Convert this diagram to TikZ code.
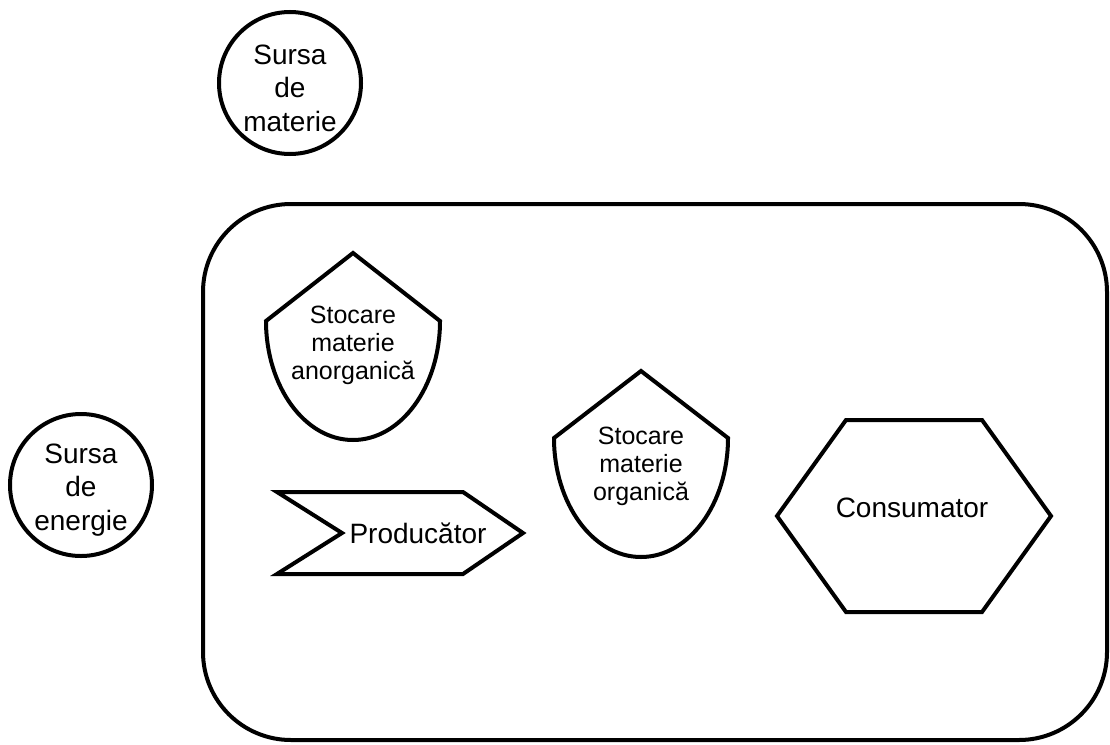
\documentclass[tikz,border=0pt]{standalone}
\usepackage{fontspec}
\setmainfont{Liberation Sans}
\begin{document}
\begin{tikzpicture}[x=1pt,y=-1pt,
  outline/.style={draw=black, line width=4pt, line join=miter},
  source/.style={circle, outline, minimum size=142pt, inner sep=0pt},
  bigtxt/.style={inner sep=0pt, align=center, font=\fontsize{28}{33.5}\selectfont},
  smalltxt/.style={inner sep=0pt, align=center, font=\fontsize{25}{28}\selectfont}]
\useasboundingbox (0,0) rectangle (1110,744);

% ecosystem boundary
\draw[outline, rounded corners=88pt] (203,204) rectangle (1107,740);

% external sources (text sits a little below the circle centre)
\node[source] (materie) at (290,83) {};
\node[bigtxt] (materietxt) at ([yshift=-5pt]materie.center) {Sursa\\de\\materie};
\node[source] (energie) at (81,485) {};
\node[bigtxt] (energietxt) at ([yshift=-5pt]energie.center) {Sursa\\de\\energie};

% inorganic matter storage
\draw[outline] (266,321) -- (353,253) -- (440,321)
  arc[start angle=0, end angle=180, x radius=87, y radius=119] -- cycle;
\node[smalltxt] (anorg) at (353,345) {Stocare\\materie\\anorganică};

% organic matter storage
\draw[outline] (554,438) -- (641,371) -- (728,438)
  arc[start angle=0, end angle=180, x radius=87, y radius=119] -- cycle;
\node[smalltxt] (org) at (641,466) {Stocare\\materie\\organică};

% producer
\draw[outline] (277,492) -- (463,492) -- (523,533) -- (463,574) -- (277,574)
  -- (342,533) -- cycle;
\node[bigtxt] (prod) at (418,533) {Producător};

% consumer
\draw[outline] (777,516) -- (846,420) -- (982,420) -- (1051,516) -- (982,612)
  -- (846,612) -- cycle;
\node[bigtxt] (cons) at (912,508) {Consumator};
\end{tikzpicture}
\end{document}
